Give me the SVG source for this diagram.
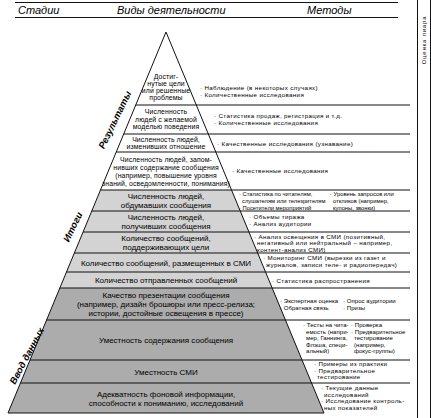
<svg xmlns="http://www.w3.org/2000/svg" width="431" height="418" viewBox="0 0 431 418">
<style>
text{font-family:"Liberation Sans",Arial,sans-serif;fill:#000}
.h{font-size:11px;font-style:italic}
.r{font-size:6.9px;letter-spacing:0.1px;text-anchor:middle}
.g{font-size:8px;text-anchor:middle}
.m{font-size:6.2px;letter-spacing:0.35px}
.ms{font-size:6px;letter-spacing:0.05px}
.mx{font-size:5.8px}
.s{font-size:9.5px;font-weight:bold;font-style:italic;text-anchor:middle}
.ln{stroke:#111;stroke-width:1;fill:none}
</style>
<rect width="431" height="418" fill="#fff"/>
<g id="header">
<line class="ln" x1="15" y1="2.5" x2="398" y2="2.5"/>
<line class="ln" x1="15" y1="17.5" x2="398" y2="17.5"/>
<text class="h" x="18" y="14">Стадии</text>
<text class="h" x="117" y="14">Виды деятельности</text>
<text class="h" x="307" y="14">Методы</text>
</g>
<g id="side">
<line class="ln" x1="417.5" y1="0" x2="417.5" y2="418"/>
<line class="ln" x1="430.5" y1="0" x2="430.5" y2="418"/>
<text x="426" y="40" font-size="6" letter-spacing="0.8" text-anchor="middle" transform="rotate(-90 426 40)">Оценка пиара</text>
</g>
<g id="pyramid">
<polygon points="100.5,190 231.5,190 272.2,288 59.8,288" fill="#d3d3d3"/>
<polygon points="59.8,288 272.2,288 324,413 8,413" fill="#acacac"/>
<polyline class="ln" points="8,413 166,32 324,413 8,413"/>
</g>
<g id="connectors">
<line class="ln" x1="135.7" y1="105" x2="410" y2="105"/>
<line class="ln" x1="123.7" y1="134" x2="410" y2="134"/>
<line class="ln" x1="116.2" y1="152" x2="410" y2="152"/>
<line class="ln" x1="100.5" y1="190" x2="410" y2="190"/>
<line class="ln" x1="91.8" y1="211" x2="410" y2="211"/>
<line class="ln" x1="83.1" y1="232" x2="410" y2="232"/>
<line class="ln" x1="74.4" y1="253" x2="410" y2="253"/>
<line class="ln" x1="66.5" y1="272" x2="410" y2="272"/>
<line class="ln" x1="59.8" y1="288" x2="410" y2="288"/>
<line class="ln" x1="46.6" y1="320" x2="410" y2="320"/>
<line class="ln" x1="30" y1="360" x2="410" y2="360"/>
<line class="ln" x1="20.4" y1="383" x2="410" y2="383"/>
</g>
<g id="stages">
<text class="s" x="115" y="123" transform="rotate(-64 115 120)">Результаты</text>
<text class="s" x="73" y="230" transform="rotate(-64 73 227)">Итоги</text>
<text class="s" x="27" y="359" transform="rotate(-62 27 356)">Ввод данных</text>
</g>
<g id="row1">
<text class="r" x="166" y="78.5">Достиг-</text>
<text class="r" x="166" y="85.5">нутые цели</text>
<text class="r" x="166" y="92.5">или решенные</text>
<text class="r" x="166" y="99.5">проблемы</text>
<text class="m" x="200" y="90">· Наблюдение (в некоторых случаях)</text>
<text class="m" x="200" y="97">· Количественные исследования</text>
</g>
<g id="row2">
<text class="r" x="166" y="114">Численность</text>
<text class="r" x="166" y="121.5">людей с желаемой</text>
<text class="r" x="166" y="129">моделью поведения</text>
<text class="m" x="214" y="118">· Статистика продаж, регистрация и т.д.</text>
<text class="m" x="214" y="125">· Количественные исследования</text>
</g>
<g id="row3">
<text class="r" x="166" y="141.5">Численность людей,</text>
<text class="r" x="166" y="149">изменивших отношение</text>
<text class="m" x="217" y="146">· Качественные исследования (узнавание)</text>
</g>
<g id="row4">
<text class="r" x="166" y="161.5">Численность людей, запом-</text>
<text class="r" x="166" y="169.5">нивших содержание сообщения</text>
<text class="r" x="166" y="177.5">(например, повышение уровня</text>
<text class="r" x="166" y="185.5">знаний, осведомленности, понимания)</text>
<text class="m" x="232" y="173">· Качественные исследования</text>
</g>
<g id="row5">
<text class="g" x="166" y="199">Численность людей,</text>
<text class="g" x="166" y="208">обдумавших сообщения</text>
<text class="mx" x="239" y="196">· Статистика по читателям,</text>
<text class="mx" x="242" y="203">слушателям или телезрителям</text>
<text class="mx" x="239" y="210">· Посетители мероприятий</text>
<text class="mx" x="330" y="196">· Уровень запросов или</text>
<text class="mx" x="333" y="203">откликов (например,</text>
<text class="mx" x="333" y="210">купоны, звонки)</text>
</g>
<g id="row6">
<text class="g" x="166" y="220">Численность людей,</text>
<text class="g" x="166" y="229">получивших сообщения</text>
<text class="m" x="249" y="219">· Объемы тиража</text>
<text class="m" x="249" y="226">· Анализ аудитории</text>
</g>
<g id="row7">
<text class="g" x="166" y="241">Количество сообщений,</text>
<text class="g" x="166" y="250">поддерживающих цели</text>
<text class="m" x="254" y="238.5">· Анализ освещения в СМИ (позитивный,</text>
<text class="m" x="257" y="245">негативный или нейтральный – например,</text>
<text class="m" x="257" y="251.5">контент-анализ СМИ)</text>
</g>
<g id="row8">
<text class="g" x="166" y="265.5">Количество сообщений, размещенных в СМИ</text>
<text class="m" x="263" y="260">· Мониторинг СМИ (вырезки из газет и</text>
<text class="m" x="266" y="267">журналов, записи теле- и радиопередач)</text>
</g>
<g id="row9">
<text class="g" x="166" y="283">Количество отправленных сообщений</text>
<text class="m" x="272" y="282.5">· Статистика распространения</text>
</g>
<g id="row10">
<text class="g" x="166" y="298">Качество презентации сообщения</text>
<text class="g" x="166" y="307">(например, дизайн брошюры или пресс-релиза;</text>
<text class="g" x="166" y="316">истории, достойные освещения в прессе)</text>
<text class="ms" x="280" y="303">· Экспертная оценка</text>
<text class="ms" x="280" y="310">· Обратная связь</text>
<text class="ms" x="343" y="303">· Опрос аудитории</text>
<text class="ms" x="343" y="310">· Призы</text>
</g>
<g id="row11">
<text class="g" x="166" y="343">Уместность содержания сообщения</text>
<text class="ms" x="303" y="327">· Тесты на чита-</text>
<text class="ms" x="306" y="333.5">емость (напри-</text>
<text class="ms" x="306" y="340">мер, Ганнинга,</text>
<text class="ms" x="306" y="346.5">Флэша, специ-</text>
<text class="ms" x="306" y="353">альный)</text>
<text class="ms" x="351" y="327">· Проверка</text>
<text class="ms" x="351" y="333.5">· Предварительное</text>
<text class="ms" x="354" y="340">тестирование</text>
<text class="ms" x="354" y="346.5">(например,</text>
<text class="ms" x="354" y="353">фокус-группы)</text>
</g>
<g id="row12">
<text class="g" x="166" y="374.5">Уместность СМИ</text>
<text class="m" x="314" y="366">· Примеры из практики</text>
<text class="m" x="314" y="372.5">· Предварительное</text>
<text class="m" x="317" y="379">тестирование</text>
</g>
<g id="row13">
<text class="g" x="166" y="396.5">Адекватность фоновой информации,</text>
<text class="g" x="166" y="405.5">способности к пониманию, исследований</text>
<text class="m" x="321" y="390">· Текущие данные</text>
<text class="m" x="324" y="396.5">исследований</text>
<text class="m" x="321" y="403">· Исследование контроль-</text>
<text class="m" x="324" y="409.5">ных показателей</text>
</g>
</svg>
